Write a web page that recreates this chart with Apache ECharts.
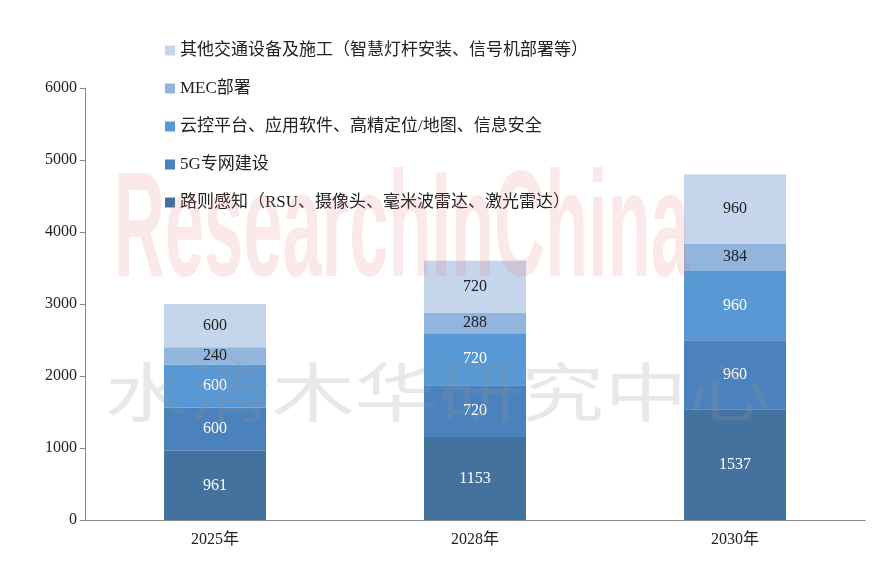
<!DOCTYPE html>
<html><head><meta charset="utf-8">
<script src="https://cdn.jsdelivr.net/npm/echarts@6/dist/echarts.min.js"></script>
<style>html,body{margin:0;padding:0;background:#fff}#c{width:885px;height:579px}</style>
</head><body><div id="c"></div>
<script>
const categories = ['2025年','2028年','2030年'];
const seriesNames = ['路则感知（RSU、摄像头、毫米波雷达、激光雷达）','5G专网建设','云控平台、应用软件、高精定位/地图、信息安全','MEC部署','其他交通设备及施工（智慧灯杆安装、信号机部署等）'];
const roadSensing = [961,1153,1537];
const fiveG = [600,720,960];
const cloudCtrl = [600,720,960];
const mec = [240,288,384];
const others = [600,720,960];
const colors = ['#44729f','#4b82bd','#5898d4','#92b5dd','#c5d6ec'];
const dataSets = [roadSensing,fiveG,cloudCtrl,mec,others];
const font = '"Liberation Serif","Noto Sans CJK SC",serif';
const chart = echarts.init(document.getElementById('c'));
chart.setOption({
  animation:false,
  graphic:[
    {type:'text',x:114,y:160,scaleX:0.47,scaleY:1,style:{text:'ResearchInChina',fontSize:150,fontFamily:'Liberation Sans',fill:'rgba(230,110,110,0.16)',fontWeight:'bold'},z:100},
    {type:'text',x:105,y:360,scaleX:1.3,scaleY:1,style:{text:'水清木华研究中心',fontSize:64,fontFamily:'Noto Sans CJK SC',fill:'rgba(150,150,150,0.22)'},z:100}
  ],
  legend:{
    data:seriesNames.slice().reverse(),
    orient:'vertical',left:160,top:37,itemGap:21,itemWidth:10,itemHeight:10,icon:'rect',
    textStyle:{fontSize:17,fontFamily:font,color:'#222'}
  },
  grid:{left:85,right:20,top:88,bottom:59},
  xAxis:{type:'category',data:categories,
    axisLine:{lineStyle:{color:'#888'}},axisTick:{show:false},
    axisLabel:{fontSize:16,fontFamily:font,color:'#222',margin:12}},
  yAxis:{type:'value',min:0,max:6000,interval:1000,
    axisLine:{show:true,lineStyle:{color:'#888'}},axisTick:{show:true,lineStyle:{color:'#888'}},splitLine:{show:false},
    axisLabel:{fontSize:16,fontFamily:font,color:'#222',formatter:v=>String(v)}},
  series:dataSets.map((d,i)=>({
    name:seriesNames[i],type:'bar',stack:'t',data:d,barWidth:102,
    itemStyle:{color:colors[i]},
    label:{show:true,position:'inside',fontSize:16,fontFamily:font,color:i>=3?'#222':'#fff'}
  }))
});
</script></body></html>
